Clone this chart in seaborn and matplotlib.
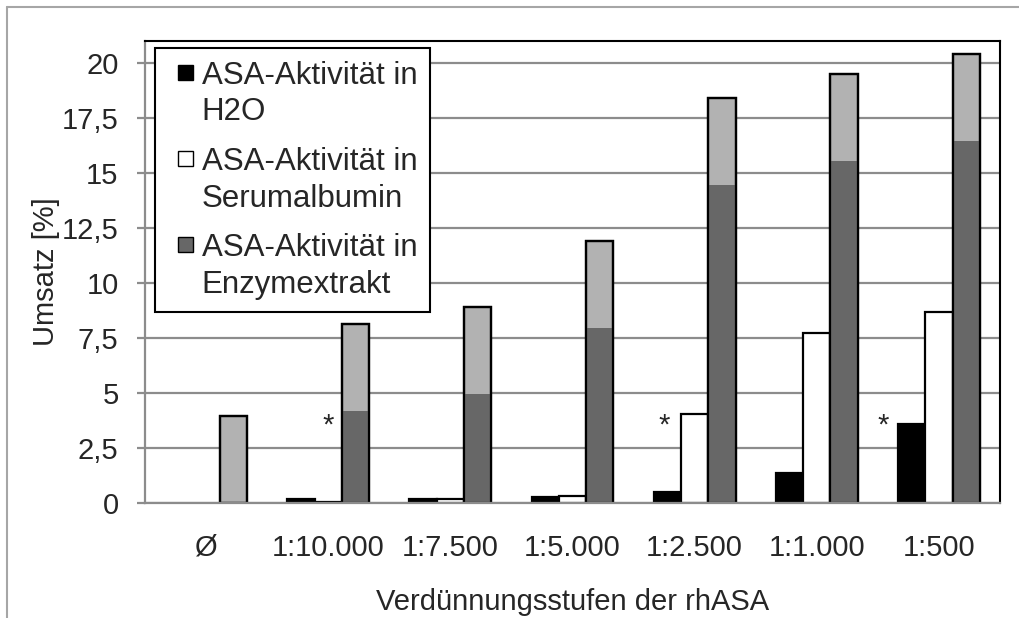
import numpy as np
import pandas as pd
import seaborn as sns
import matplotlib.pyplot as plt
from matplotlib.patches import Patch, Rectangle
from matplotlib.legend_handler import HandlerPatch
from matplotlib.lines import Line2D

# values
categories = ["Ø", "1:10.000", "1:7.500", "1:5.000", "1:2.500", "1:1.000", "1:500"]
h2o = [np.nan, 0.2, 0.2, 0.28, 0.5, 1.37, 3.6]
serum = [np.nan, 0.05, 0.2, 0.32, 4.05, 7.75, 8.7]
enzym = [np.nan, 4.2, 4.95, 7.95, 14.45, 15.55, 16.45]
background = [3.95, 3.95, 3.95, 3.95, 3.95, 3.95, 3.95]
series = ["ASA-Aktivität in\nH2O", "ASA-Aktivität in\nSerumalbumin", "ASA-Aktivität in\nEnzymextrakt"]
star_cats = ["1:10.000", "1:2.500", "1:500"]
yticks = [0, 2.5, 5, 7.5, 10, 12.5, 15, 17.5, 20]
ytick_labels = ["0", "2,5", "5", "7,5", "10", "12,5", "15", "17,5", "20"]

BLACK, WHITE, DARK, LIGHT = "#000000", "#ffffff", "#676767", "#b2b2b2"
GRID = "#8c8c8c"

sns.set_style("white")
plt.rcParams["font.family"] = ["Liberation Sans", "DejaVu Sans"]
FS = 21
LFS = 22.5

total = [np.nansum([e, b]) for e, b in zip(enzym, background)]
n = len(categories)
nan = [np.nan] * n


def long(a, b, c):
    return pd.DataFrame({
        "Stufe": categories * 3,
        "Serie": [s for s in series for _ in categories],
        "Umsatz": list(a) + list(b) + list(c),
    })


df_tot = long(h2o, serum, total)
df_enz = long(nan, nan, enzym)
df_out = long(nan, nan, total)

fig = plt.figure(figsize=(10.19, 6.18), dpi=100)
ax = fig.add_axes([145 / 1019, 1 - 503 / 618, 855 / 1019, 462 / 618])

kw = dict(x="Stufe", y="Umsatz", hue="Serie", order=categories, hue_order=series,
          width=0.67, errorbar=None, ax=ax, legend=False)
sns.barplot(data=df_tot, palette=[BLACK, WHITE, LIGHT], edgecolor="black", linewidth=1.6, **kw)
sns.barplot(data=df_enz, palette=[BLACK, WHITE, DARK], linewidth=0, **kw)
sns.barplot(data=df_out, palette=[BLACK, BLACK, BLACK], fill=False, linewidth=1.6, **kw)

ax.set_axisbelow(True)
ax.set_ylim(0, 21)
ax.set_xlim(-0.5, n - 0.5)
ax.set_yticks(yticks)
ax.set_yticklabels(ytick_labels)
ax.yaxis.grid(True, color=GRID, lw=1.6)
ax.xaxis.grid(False)
ax.set_xticks(range(n))
ax.set_xticklabels(categories)
ax.set_xticks(np.arange(-0.5, n), minor=True)
ax.tick_params(axis="x", which="major", length=0, pad=22, labelsize=FS)
ax.tick_params(axis="x", which="minor", length=6, width=1.6, color=GRID, direction="out")
ax.tick_params(axis="y", length=6, width=1.6, color=GRID, pad=13, labelsize=FS, left=True)

for s in ["top", "right"]:
    ax.spines[s].set_color("black")
    ax.spines[s].set_linewidth(1.5)
for s in ["left", "bottom"]:
    ax.spines[s].set_color(GRID)
    ax.spines[s].set_linewidth(1.6)

ax.set_ylabel("Umsatz [%]", fontsize=FS, labelpad=1)
ax.set_xlabel("Verdünnungsstufen der rhASA", fontsize=FS, labelpad=19)

# significance stars
star_offsets = [0.0, -0.25, -0.46]
for c, off in zip(star_cats, star_offsets):
    ax.text(categories.index(c) + off, 3.15, "*", ha="center", va="baseline", fontsize=FS)


# legend marker sits next to the first text line
class TopSquare(HandlerPatch):
    def create_artists(self, legend, orig_handle, xdescent, ydescent, width, height,
                       fontsize, trans):
        side = 0.48 * fontsize
        p = Rectangle((width - side - xdescent, -ydescent + 0.74 * fontsize), side, side,
                      facecolor=orig_handle.get_facecolor(), edgecolor="black", lw=1.0,
                      transform=trans)
        return [p]


handles = [Patch(facecolor=c, edgecolor="black") for c in [BLACK, WHITE, DARK]]
leg = ax.legend(handles, series, loc="upper left", bbox_to_anchor=(155 / 1019, 1 - 48 / 618),
                bbox_transform=fig.transFigure, borderaxespad=0, fontsize=LFS,
                frameon=True, fancybox=False, shadow=False, handlelength=0.8,
                handleheight=0.48, handletextpad=0.3, borderpad=0.4, labelspacing=0.62,
                handler_map={Patch: TopSquare()})
for t in leg.get_texts():
    t.set_linespacing(1.3)
leg.get_frame().set_edgecolor("black")
leg.get_frame().set_linewidth(1.5)
leg.get_frame().set_alpha(1)

# outer chart frame
fig.add_artist(Line2D([7 / 1019, 1], [1 - 7 / 618] * 2, transform=fig.transFigure,
                      color="#a6a6a6", lw=1.5))
fig.add_artist(Line2D([7 / 1019] * 2, [0, 1 - 7 / 618], transform=fig.transFigure,
                      color="#a6a6a6", lw=1.5))

fig.savefig("out.png", dpi=100)
